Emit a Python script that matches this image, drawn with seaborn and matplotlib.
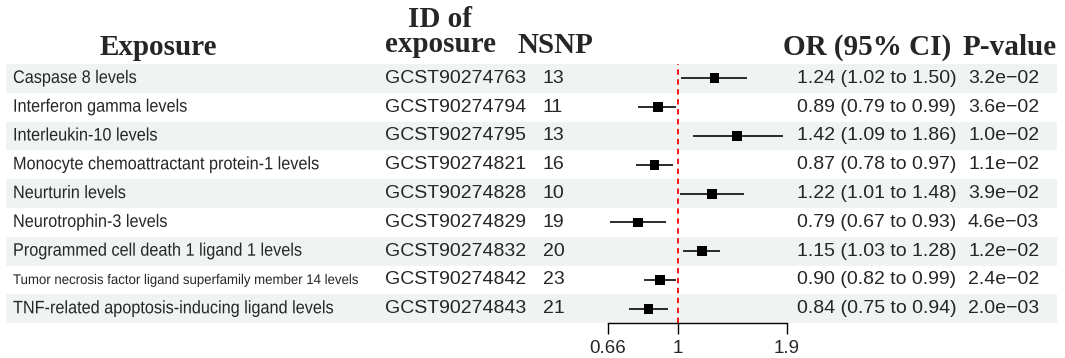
import matplotlib
matplotlib.use('Agg')
import numpy as np
import pandas as pd
import matplotlib.pyplot as plt
from matplotlib.patches import Rectangle
from matplotlib.patheffects import AbstractPathEffect
from matplotlib.transforms import Affine2D, Bbox
from matplotlib.ticker import NullLocator
import seaborn as sns

# data
exposures = [
    'Caspase 8 levels',
    'Interferon gamma levels',
    'Interleukin-10 levels',
    'Monocyte chemoattractant protein-1 levels',
    'Neurturin levels',
    'Neurotrophin-3 levels',
    'Programmed cell death 1 ligand 1 levels',
    'Tumor necrosis factor ligand superfamily member 14 levels',
    'TNF-related apoptosis-inducing ligand levels',
]
study_ids = ['GCST90274763', 'GCST90274794', 'GCST90274795', 'GCST90274821', 'GCST90274828',
             'GCST90274829', 'GCST90274832', 'GCST90274842', 'GCST90274843']
nsnp = [13, 11, 13, 16, 10, 19, 20, 23, 21]
or_est = [1.24, 0.89, 1.42, 0.87, 1.22, 0.79, 1.15, 0.90, 0.84]
ci_low = [1.02, 0.79, 1.09, 0.78, 1.01, 0.67, 1.03, 0.82, 0.75]
ci_high = [1.50, 0.99, 1.86, 0.97, 1.48, 0.93, 1.28, 0.99, 0.94]
p_values = ['3.2e\u221202', '3.6e\u221202', '1.0e\u221202', '1.1e\u221202', '3.9e\u221202',
            '4.6e\u221203', '1.2e\u221202', '2.4e\u221202', '2.0e\u221203']
x_ticks = [0.66, 1, 1.9]
x_ticklabels = ['0.66', '1', '1.9']


class Squeeze(AbstractPathEffect):
    """draw text glyphs horizontally condensed around its left edge"""
    def __init__(self, sx, x_left):
        super().__init__()
        self.sx = sx
        self.x_left = x_left

    def draw_path(self, renderer, gc, tpath, affine, rgbFace=None):
        sq = Affine2D().translate(-self.x_left, 0).scale(self.sx, 1).translate(self.x_left, 0)
        renderer.draw_path(gc, tpath, affine + sq, rgbFace)


def squeeze_text(t, sx, x_left):
    t.set_path_effects([Squeeze(sx, x_left)])
    orig = t.get_window_extent

    def extent(renderer=None, dpi=None):
        bb = orig(renderer, dpi)
        return Bbox.from_extents(bb.x0, bb.y0, bb.x0 + bb.width * sx, bb.y1)
    t.get_window_extent = extent


sns.set_style('white')
plt.rcParams['font.family'] = ['Liberation Sans', 'DejaVu Sans']

df = pd.DataFrame({'exposure': exposures, 'row': np.arange(len(exposures)),
                   'OR': or_est, 'lo': ci_low, 'hi': ci_high})
df['or_text'] = [f'{o:.2f} ({l:.2f} to {h:.2f})' for o, l, h in zip(or_est, ci_low, ci_high)]

W, H = 1065, 358
fig = plt.figure(figsize=(W / 100, H / 100), dpi=100)
bg = fig.add_axes([0, 0, 1, 1])
bg.set_xlim(0, W)
bg.set_ylim(H, 0)
bg.axis('off')

top, row_h = 64, 28.8
n = len(df)
body = 14
lab_x = 13
head = dict(family=['Liberation Serif', 'DejaVu Serif'], fontweight='bold', fontsize=21)

renderer = fig.canvas.get_renderer()
for i, r in df.iterrows():
    if i % 2 == 0:
        bg.add_patch(Rectangle((6, top + i * row_h), 1051, row_h, color='#eff3f2', lw=0, zorder=0))
    yc = top + (i + 0.5) * row_h
    t = bg.text(lab_x, yc, r['exposure'], fontsize=13, va='center')
    if len(r['exposure']) > 50:
        # the long label is shrunk and condensed to fit its column, as in the reference
        w = t.get_window_extent(renderer).width
        t.set_fontsize(13 * 365 / w)
        squeeze_text(t, 345 / 365, lab_x)
    else:
        squeeze_text(t, 0.9, lab_x)
    bg.text(385, yc, study_ids[i], fontsize=body, va='center')
    bg.text(543, yc, str(nsnp[i]), fontsize=body, va='center')
    bg.text(797, yc, r['or_text'], fontsize=body, va='center')
    bg.text(968, yc, p_values[i], fontsize=body, va='center')

bg.text(100, 55, 'Exposure', ha='left', va='baseline', **head)
bg.text(440, 58.5, 'ID of\nexposure', ha='center', va='bottom', multialignment='center',
        linespacing=0.95, **head)
bg.text(518, 53, 'NSNP', ha='left', va='baseline', **head)
bg.text(783, 55, 'OR (95% CI)', ha='left', va='baseline', **head)
bg.text(963, 55, 'P-value', ha='left', va='baseline', **head)

# forest panel
x0, x1, y_axis = 607.7, 786.7, 323.3
ax = fig.add_axes([x0 / W, (H - y_axis) / H, (x1 - x0) / W, (y_axis - top) / H])
ax.patch.set_alpha(0)
ax.set_xscale('log')
ax.hlines(df['row'], df['lo'], df['hi'], color='#1a1a1a', lw=1.3, zorder=2)
sns.scatterplot(data=df, x='OR', y='row', marker='s', s=50, color='black',
                edgecolor='none', ax=ax, zorder=3, legend=False)
ax.axvline(1, color='red', ls=(0, (3, 2.5)), lw=1.3, zorder=1)
ax.set_xlim(0.66, 1.9)
ax.set_ylim(n - 0.5, -0.5)
ax.set_xticks(x_ticks)
ax.set_xticklabels(x_ticklabels)
ax.xaxis.set_minor_locator(NullLocator())
ax.set_yticks([])
ax.set_xlabel('')
ax.set_ylabel('')
for s in ['top', 'right', 'left']:
    ax.spines[s].set_visible(False)
ax.spines['bottom'].set_color('black')
ax.spines['bottom'].set_linewidth(1)
ax.tick_params(axis='x', length=8, width=1, color='black', labelsize=13.5, pad=4, bottom=True)

fig.savefig('out.png', dpi=100)
